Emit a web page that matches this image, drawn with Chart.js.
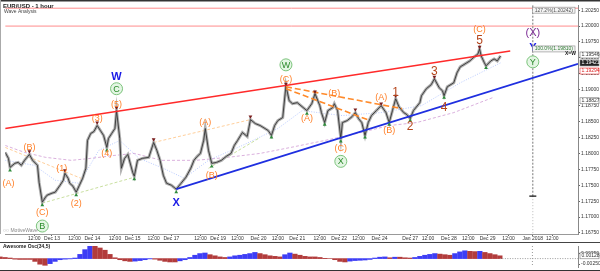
<!DOCTYPE html>
<html>
<head>
<meta charset="utf-8">
<script src="https://cdn.jsdelivr.net/npm/chart.js@4.4.1/dist/chart.umd.min.js"></script>
<style>
  html, body { margin: 0; padding: 0; background: #fff; }
  #wrap { position: relative; width: 600px; height: 271px; overflow: hidden; }
  #priceChart { position: absolute; left: 0; top: 0; }
  #oscChart { position: absolute; left: 0; top: 242px; }
</style>
</head>
<body>
<div id="wrap">
  <canvas id="priceChart" width="600" height="242"></canvas>
  <canvas id="oscChart" width="600" height="29"></canvas>
</div>
<script>
// ── Data (x = hourly bar index, y = EUR/USD) ─────────────────────
const priceBars = [0,2,3,6,8,10,12,15,17,20,21,23,25,26,29,31,34,36,37,39,40,42,44,46,48,50,51,53,55,57,59,61,63,64,66,68,69,71,72,74,76,79,80,82,85,89,92,94,96,98,100,103,106,109,112,115,117,119,121,123,124,126,128,131,134,137,140,142,144,147,150,152,155,158,161,163,165,167,169,172,174,176,178,181,184,187,190,192,195,196,198,200,203,204,206,208,209,212,215,217,219,221,223,225,227,230,233,236,238,240,242,244,247,249,251,253,257,258,261,264,266,269,271,272,274,278,280,282,286,288,290,293,294,295,297,298,301,303,305,307];
const priceClose = [1.18016,1.17922,1.17781,1.17844,1.17859,1.17813,1.17891,1.17984,1.17891,1.17813,1.17547,1.17234,1.17313,1.17344,1.17375,1.17391,1.17500,1.17578,1.17688,1.17609,1.17531,1.17484,1.17391,1.17500,1.17609,1.17766,1.18203,1.18313,1.18344,1.18438,1.18359,1.18281,1.18094,1.18234,1.18313,1.18391,1.18672,1.18234,1.17766,1.17922,1.17984,1.17703,1.17641,1.17891,1.17922,1.17938,1.18172,1.18047,1.17891,1.17656,1.17531,1.17500,1.17438,1.17531,1.17625,1.17766,1.17891,1.17953,1.18000,1.18203,1.18391,1.18047,1.17844,1.17859,1.17891,1.17953,1.18000,1.18125,1.18203,1.18328,1.18266,1.18531,1.18469,1.18438,1.18391,1.18359,1.18281,1.18438,1.18516,1.18563,1.19063,1.18828,1.18781,1.18797,1.18734,1.18672,1.18781,1.18938,1.18750,1.18641,1.18484,1.18672,1.18719,1.18781,1.18672,1.18234,1.18484,1.18516,1.18578,1.18641,1.18547,1.18484,1.18281,1.18484,1.18594,1.18672,1.18750,1.18641,1.18484,1.18672,1.18859,1.18734,1.18641,1.18609,1.18547,1.18672,1.18797,1.18906,1.19016,1.19078,1.19172,1.19031,1.18984,1.18906,1.19047,1.19109,1.19266,1.19359,1.19422,1.19453,1.19500,1.19563,1.19641,1.19531,1.19422,1.19375,1.19453,1.19484,1.19453,1.19531];

// moving averages (faint)
const slowMaBars = [0,12,25,41,53,68,80,97,118,138,158,177,198,218,238,255,278,302];
const slowMaVals = [1.18125,1.18016,1.17938,1.17891,1.17922,1.17969,1.18000,1.17891,1.17891,1.17938,1.18000,1.18094,1.18203,1.18313,1.18438,1.18484,1.18641,1.18875];
const fastMaBars = [0,18,31,46,58,71,83,98,111,126,147,169,184,209,233,258,282,307];
const fastMaVals = [1.17891,1.17813,1.17578,1.17531,1.18047,1.18203,1.17922,1.17766,1.17609,1.17891,1.18125,1.18391,1.18672,1.18594,1.18641,1.18750,1.19109,1.19422];

// trend lines [bar0, price0, bar1, price1]
const redChannel = [0, 1.18391, 313, 1.19609];
const blueChannel = [106, 1.17438, 355, 1.19406];
const orangeDash1 = [174, 1.19047, 246, 1.18703];
const orangeDash2 = [174, 1.19016, 226, 1.18516];
const paleOrange = [[0, 1.18094, 47, 1.17609], [92, 1.18172, 152, 1.18531]];
const paleGreen = [[23, 1.17219, 80, 1.17625], [126, 1.17766, 158, 1.18250]];

// fib levels
const fibLevels = [1.20281, 1.20000];
const fibBoxText = ['127.2%(1.20242)', '100.0%(1.19810)'];
const fibBoxPrice = [1.20250, 1.19641];

// projection line
const projBar = 327;
const projTarget = 1.17328;

// swing markers
const lowMarkBars = [3,23,44,63,80,106,128,165,187,198,208,223,238,251,272,298];
const lowMarkVals = [1.17734,1.17188,1.17344,1.18047,1.17594,1.17391,1.17797,1.18250,1.18625,1.18453,1.18188,1.18250,1.18453,1.18516,1.18875,1.19344];
const highMarkBars = [15,37,57,69,92,152,174,192,217,233,242,266,294];
const highMarkVals = [1.18031,1.17734,1.18484,1.18719,1.18219,1.18578,1.19094,1.18969,1.18688,1.18781,1.18906,1.19203,1.19672];

// wave labels
const waveText  = ['(A)','(B)','(C)','(1)','(2)','(3)','(4)','(5)','C','W','B','(A)','(B)','X','(A)','(B)','(C)','X','W','(C)','(A)','(B)','1','2','3','4','5','(C)','(X)','Y','Y'];
const waveBar   = [2,15,23,35,44,57,63,69,69,69,23,124,128,106,187,204,208,208,174,174,233,238,242,251,266,272,294,294,327,327,327];
const wavePrice = [1.17531,1.18094,1.17078,1.17766,1.17219,1.18547,1.18000,1.18766,1.19016,1.19203,1.16859,1.18484,1.17656,1.17219,1.18547,1.18938,1.18078,1.17875,1.19391,1.19156,1.18875,1.18359,1.18953,1.18422,1.19281,1.18719,1.19766,1.19953,1.19891,1.19656,1.19438];
const waveKind  = ['o','o','o','o','o','o','o','o','g','b','g','o','o','b','o','o','o','g','g','o','o','o','r','r','r','r','r','o','p','b','g'];

// price tags on the right axis
const tagText  = ['1.19546','1.19421','1.19294','1.18827'];
const tagPrice = [1.19546, 1.19421, 1.19294, 1.18827];
const tagStyle = ['box','dark','red','box'];

// axes
const yMin = 1.16734, yMax = 1.20328;
const yTicks = [1.1675,1.1700,1.1725,1.1750,1.1775,1.1800,1.1825,1.1850,1.1875,1.1900,1.1925,1.1950,1.1975,1.2000,1.2025];
const xMax = 355;
const xTickBars = [18,29,43,54,68,79,92,103,121,132,144,157,169,181,195,207,219,232,251,262,275,287,299,312,327,339];
const xTickLabels = ['12:00','Dec 13','12:00','Dec 14','12:00','Dec 15','12:00','Dec 17','12:00','Dec 19','12:00','Dec 20','12:00','Dec 21','12:00','Dec 22','12:00','Dec 24','Dec 27','12:00','Dec 28','12:00','Dec 29','12:00','Jan 2018','12:00'];

// awesome oscillator, sampled every ~3 bars
const aoStep = 3.07;
const aoValues = [0.00077,0.00051,0.00026,-0.00026,-0.00038,-0.00038,-0.00038,-0.00128,-0.00256,-0.00307,-0.00230,-0.00128,-0.00051,-0.00026,-0.00013,0.00026,0.00192,0.00410,0.00576,0.00563,0.00486,0.00384,0.00192,0.00038,-0.00051,-0.00102,-0.00128,-0.00115,-0.00090,-0.00051,-0.00013,-0.00026,-0.00077,-0.00128,-0.00154,-0.00154,-0.00102,-0.00051,0.00051,0.00154,0.00230,0.00256,0.00179,0.00128,0.00077,0.00051,0.00077,0.00128,0.00154,0.00192,0.00230,0.00282,0.00230,0.00179,0.00128,0.00102,0.00077,0.00179,0.00256,0.00205,0.00154,0.00102,0.00077,0.00077,0.00051,0.00013,0.0,-0.00051,-0.00128,-0.00154,-0.00115,-0.00090,-0.00077,-0.00064,-0.00038,0.00026,0.00064,0.00077,0.00038,0.00064,0.00064,0.00038,0.00026,0.00051,0.00102,0.00154,0.00192,0.00230,0.00205,0.00179,0.00154,0.00230,0.00307,0.00358,0.00333,0.00320,0.00333,0.00282,0.00230,0.00179,0.00128];
const aoMin = -0.00385, aoMax = 0.00577;
const aoTicks = [0.0025, -0.0025];

const FONT = 'Liberation Sans, Arial, sans-serif';

// ── helpers ──────────────────────────────────────────────────
const pts = (xs, ys) => xs.map((x, i) => ({ x, y: ys[i] }));
const seg = s => [{ x: s[0], y: s[1] }, { x: s[2], y: s[3] }];
const lineDs = (data, color, width, dash) => ({
  type: 'line', data, borderColor: color, borderWidth: width, borderDash: dash || [],
  pointRadius: 0, tension: 0, fill: false
});

// ── annotation plugin for the price panel ─────────────────────
const priceDecor = {
  id: 'priceDecor',
  beforeDraw(chart) {
    const c = chart.ctx;
    c.save();
    c.fillStyle = '#fff';
    c.fillRect(0, 0, chart.width, chart.height);
    c.restore();
  },
  afterDatasetsDraw(chart) {
    const c = chart.ctx, xs = chart.scales.x, ys = chart.scales.y, a = chart.chartArea;
    c.save();
    c.textAlign = 'center';
    c.textBaseline = 'middle';
    waveText.forEach((t, i) => {
      const px = xs.getPixelForValue(waveBar[i]), py = ys.getPixelForValue(wavePrice[i]);
      const k = waveKind[i];
      if (k === 'o') { c.font = '9px ' + FONT; c.fillStyle = '#ff7f27'; c.fillText(t, px, py); }
      else if (k === 'r') { c.font = '12px ' + FONT; c.fillStyle = '#b5451b'; c.fillText(t, px, py); }
      else if (k === 'b') { c.font = 'bold 11px ' + FONT; c.fillStyle = '#1a1ae6'; c.fillText(t, px, py); }
      else if (k === 'p') { c.font = '11px ' + FONT; c.fillStyle = '#7b2a94'; c.fillText(t, px, py); }
      else if (k === 'g') {
        c.beginPath(); c.arc(px, py, 6, 0, Math.PI * 2);
        c.fillStyle = 'rgba(225,245,225,0.9)'; c.fill();
        c.strokeStyle = '#7cc47c'; c.lineWidth = 1; c.stroke();
        c.font = '9px ' + FONT; c.fillStyle = '#2b8a2b'; c.fillText(t, px, py + 0.5);
      }
    });
    // fib boxes
    c.font = '5px ' + FONT;
    fibBoxText.forEach((t, i) => {
      const py = ys.getPixelForValue(fibBoxPrice[i]);
      const w = c.measureText(t).width + 4, x1 = a.right - 3 - w;
      c.fillStyle = '#f4f4f4'; c.fillRect(x1, py - 3, w, 6);
      c.strokeStyle = '#888'; c.lineWidth = 0.6; c.strokeRect(x1, py - 3, w, 6);
      c.fillStyle = i === 0 ? '#555' : '#2e7d32';
      c.textAlign = 'left'; c.fillText(t, x1 + 2, py);
    });
    c.font = 'bold 5px ' + FONT; c.fillStyle = '#222'; c.textAlign = 'right';
    c.fillText('X=W', a.right - 2, ys.getPixelForValue(1.19563));
    // title
    c.textAlign = 'left';
    c.font = 'bold 6px ' + FONT; c.fillStyle = '#222';
    c.fillText('EUR/USD - 1 hour', 3, 6);
    c.font = '5px ' + FONT; c.fillStyle = '#444';
    c.fillText('Wave Analysis', 4, 12);
    c.fillStyle = '#888';
    c.fillText('\u25CB\u25CB MotiveWave', 3, a.bottom - 3);
    // right axis tags
    c.font = '5px ' + FONT;
    tagText.forEach((t, i) => {
      const py = ys.getPixelForValue(tagPrice[i]), x1 = a.right + 2;
      const s = tagStyle[i];
      c.fillStyle = s === 'dark' ? '#222' : '#fff';
      c.fillRect(x1, py - 3, 19, 6);
      c.strokeStyle = s === 'red' ? '#e33' : '#777'; c.lineWidth = 0.6;
      c.strokeRect(x1, py - 3, 19, 6);
      c.fillStyle = s === 'dark' ? '#fff' : (s === 'red' ? '#d22' : '#333');
      c.fillText(t, x1 + 1.5, py);
    });
    // frame
    c.fillStyle = '#333'; c.fillRect(0, 0, chart.width, 1.5);
    c.strokeStyle = '#aaa'; c.lineWidth = 1;
    c.beginPath(); c.moveTo(0.5, 0); c.lineTo(0.5, a.bottom); c.stroke();
    c.restore();
  }
};

// ── price panel (first dataset is drawn on top) ──────────────
const priceDatasets = [
  { type: 'line', data: [{ x: projBar, y: projTarget }], showLine: false, pointStyle: 'line',
    pointRadius: 3.5, borderColor: '#111', pointBorderWidth: 1.2 },
  { type: 'line', data: pts(highMarkBars, highMarkVals), showLine: false, pointStyle: 'triangle',
    rotation: 180, pointRadius: 2.2, pointBackgroundColor: '#7a1d1d', pointBorderWidth: 0 },
  { type: 'line', data: pts(lowMarkBars, lowMarkVals), showLine: false, pointStyle: 'triangle',
    pointRadius: 2.2, pointBackgroundColor: '#2e8b3a', pointBorderWidth: 0 },
  lineDs(seg(orangeDash1), '#ff8a2a', 1.6, [6, 3]),
  lineDs(seg(orangeDash2), '#ff8a2a', 1.6, [6, 3]),
  lineDs(seg(blueChannel), '#1f2fe0', 1.8),
  lineDs(seg(redChannel), '#ff2a2a', 1.6),
  lineDs(pts(priceBars, priceClose), '#333', 0.9),
  lineDs(pts(priceBars, priceClose), '#b0b0b0', 3),
  lineDs([{ x: projBar, y: yMax }, { x: projBar, y: projTarget }], '#777', 1, [2, 1.5]),
  lineDs([{ x: projBar, y: projTarget }, { x: projBar, y: yMin }], '#bbb', 1, [1, 2]),
  ...fibLevels.map(v => lineDs([{ x: 0, y: v }, { x: xMax, y: v }], '#ff8c8c', 1)),
  ...paleOrange.map(s => lineDs(seg(s), 'rgba(255,195,130,0.8)', 1, [3, 2])),
  ...paleGreen.map(s => lineDs(seg(s), 'rgba(195,220,150,0.9)', 1, [3, 2])),
  lineDs(pts(fastMaBars, fastMaVals), 'rgba(130,160,255,0.55)', 1, [1, 1.5]),
  lineDs(pts(slowMaBars, slowMaVals), 'rgba(205,150,210,0.75)', 1, [3, 2])
];

new Chart(document.getElementById('priceChart').getContext('2d'), {
  type: 'line',
  data: { datasets: priceDatasets },
  options: {
    responsive: false, animation: false,
    layout: { padding: { top: 4, left: 0, right: 0, bottom: 0 } },
    plugins: { legend: { display: false }, tooltip: { enabled: false } },
    scales: {
      x: {
        type: 'linear', min: 0, max: xMax,
        afterBuildTicks: ax => { ax.ticks = xTickBars.map(v => ({ value: v })); },
        afterFit: ax => { ax.height = 8; },
        ticks: { autoSkip: false, maxRotation: 0, padding: 0, color: '#333',
          font: { family: FONT, size: 5 },
          callback: (v, i) => xTickLabels[i] },
        grid: { display: true, drawOnChartArea: false, tickLength: 2, color: '#666' },
        border: { display: true, color: '#999' }
      },
      y: {
        position: 'right', min: yMin, max: yMax,
        afterBuildTicks: ax => { ax.ticks = yTicks.map(v => ({ value: v })); },
        afterFit: ax => { ax.width = 22; },
        ticks: { autoSkip: false, padding: 1, color: '#333',
          font: { family: FONT, size: 5 },
          callback: v => v.toFixed(5) },
        grid: { display: true, drawOnChartArea: false, tickLength: 2, color: '#666' },
        border: { display: true, color: '#888' }
      }
    }
  },
  plugins: [priceDecor]
});

// ── oscillator panel ─────────────────────────────────────────
const aoColors = aoValues.map((v, i) => (i > 0 && v > aoValues[i - 1]) ? '#3d3df5' : '#b23c3c');
const lastBar = (aoValues.length - 1) * aoStep;

const oscDecor = {
  id: 'oscDecor',
  beforeDraw(chart) {
    const c = chart.ctx;
    c.save(); c.fillStyle = '#fff'; c.fillRect(0, 0, chart.width, chart.height); c.restore();
  },
  afterDraw(chart) {
    const c = chart.ctx, a = chart.chartArea, ys = chart.scales.y;
    c.save();
    c.fillStyle = '#444'; c.fillRect(0, 0, chart.width, 1);
    c.fillStyle = '#333'; c.fillRect(0, chart.height - 1, chart.width, 1);
    c.font = 'bold 5px ' + FONT; c.fillStyle = '#222'; c.textBaseline = 'middle';
    c.fillText('Awesome Osc(34,5)', 3, 5);
    const py = ys.getPixelForValue(aoValues[aoValues.length - 1]);
    c.font = '5px ' + FONT;
    c.fillStyle = '#fff'; c.fillRect(a.right + 2, py - 3, 19, 6);
    c.strokeStyle = '#777'; c.lineWidth = 0.6; c.strokeRect(a.right + 2, py - 3, 19, 6);
    c.fillStyle = '#333'; c.fillText(aoValues[aoValues.length - 1].toFixed(5), a.right + 3.5, py);
    c.restore();
  }
};

new Chart(document.getElementById('oscChart').getContext('2d'), {
  type: 'bar',
  data: {
    datasets: [
      lineDs([{ x: projBar, y: aoMax }, { x: projBar, y: aoMin }], '#999', 1, [1, 2]),
      lineDs([{ x: lastBar, y: 0 }, { x: xMax, y: 0 }], '#999', 1, [1, 1.5]),
      { type: 'bar', data: aoValues.map((v, i) => ({ x: i * aoStep, y: v })),
        backgroundColor: aoColors, barThickness: 4.6, borderWidth: 0 }
    ]
  },
  options: {
    responsive: false, animation: false,
    layout: { padding: { top: 2, bottom: 2, left: 0, right: 0 } },
    plugins: { legend: { display: false }, tooltip: { enabled: false } },
    scales: {
      x: { type: 'linear', min: 0, max: xMax, display: false, offset: false },
      y: {
        position: 'right', min: aoMin, max: aoMax,
        afterBuildTicks: ax => { ax.ticks = aoTicks.map(v => ({ value: v })); },
        afterFit: ax => { ax.width = 22; },
        ticks: { padding: 1, color: '#333', font: { family: FONT, size: 5 },
          callback: v => v.toFixed(5) },
        grid: { display: true, drawOnChartArea: false, tickLength: 2, color: '#666' },
        border: { display: true, color: '#888' }
      }
    }
  },
  plugins: [oscDecor]
});
</script>
</body>
</html>
